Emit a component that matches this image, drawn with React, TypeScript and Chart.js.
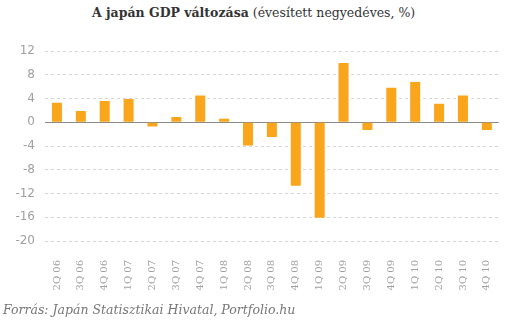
import React, { useEffect, useRef } from "react";
import { Chart, registerables } from "chart.js";

Chart.register(...registerables);

const categories = [
  "2Q 06", "3Q 06", "4Q 06", "1Q 07", "2Q 07", "3Q 07", "4Q 07", "1Q 08", "2Q 08", "3Q 08",
  "4Q 08", "1Q 09", "2Q 09", "3Q 09", "4Q 09", "1Q 10", "2Q 10", "3Q 10", "4Q 10",
];
const gdpChange = [
  3.3, 1.9, 3.6, 3.9, -0.7, 0.9, 4.5, 0.6, -3.9, -2.5,
  -10.7, -16.1, 10.0, -1.3, 5.8, 6.8, 3.1, 4.5, -1.3,
];
const yMin = -20;
const yMax = 12;
const yStep = 4;

const zeroLinePlugin = {
  id: "zeroLine",
  beforeDatasetsDraw(chart: any) {
    const { ctx, chartArea, scales } = chart;
    const y = Math.round(scales.y.getPixelForValue(0)) + 0.5;
    ctx.save();
    ctx.strokeStyle = "#8a8a8a";
    ctx.lineWidth = 1;
    ctx.beginPath();
    ctx.moveTo(chartArea.left, y);
    ctx.lineTo(chartArea.right, y);
    ctx.stroke();
    ctx.restore();
  },
};

export default function App() {
  const ref = useRef<HTMLCanvasElement>(null);
  useEffect(() => {
    if (!ref.current) return;
    const chart = new Chart(ref.current, {
      type: "bar",
      data: {
        labels: categories,
        datasets: [
          {
            data: gdpChange,
            backgroundColor: "#F9A61C",
            barPercentage: 0.42,
            categoryPercentage: 1,
          },
        ],
      },
      plugins: [zeroLinePlugin],
      options: {
        animation: false,
        responsive: false,
        maintainAspectRatio: false,
        layout: { padding: { top: 51, left: 0, right: 6, bottom: 30 } },
        plugins: {
          legend: { display: false },
          tooltip: { enabled: false },
          title: { display: false },
        },
        scales: {
          x: {
            grid: { display: false, drawTicks: false },
            border: { display: false },
            ticks: {
              minRotation: 90,
              maxRotation: 90,
              padding: 19,
              color: "#a0a0a0",
              font: { family: "DejaVu Serif", size: 10 },
            },
            afterFit: (s: any) => {
              s.height = 51;
            },
          },
          y: {
            min: yMin,
            max: yMax,
            grid: {
              drawTicks: false,
              color: (c: any) => (c.tick && c.tick.value === 0 ? "rgba(0,0,0,0)" : "#d6d6d6"),
            },
            border: { display: false, dash: [3, 3] },
            ticks: {
              stepSize: yStep,
              padding: 10,
              color: "#a0a0a0",
              font: { family: "DejaVu Sans", size: 12 },
            },
            afterFit: (s: any) => {
              s.width = 45;
            },
          },
        },
      },
    });
    return () => chart.destroy();
  }, []);

  return (
    <div style={{ position: "fixed", left: 0, top: 0, width: 518, height: 322, background: "#fff" }}>
      <div
        style={{
          position: "absolute",
          left: 92,
          top: 5,
          fontFamily: "DejaVu Serif",
          fontSize: 12.5,
          color: "#333",
          whiteSpace: "nowrap",
        }}
      >
        <b>A japán GDP változása</b> (évesített negyedéves, %)
      </div>
      <canvas ref={ref} width={518} height={322} style={{ position: "absolute", left: 0, top: 0 }} />
      <div
        style={{
          position: "absolute",
          left: 3,
          top: 302,
          fontFamily: "DejaVu Serif",
          fontStyle: "italic",
          fontSize: 12.5,
          color: "#777",
          whiteSpace: "nowrap",
        }}
      >
        Forrás: Japán Statisztikai Hivatal, Portfolio.hu
      </div>
    </div>
  );
}
